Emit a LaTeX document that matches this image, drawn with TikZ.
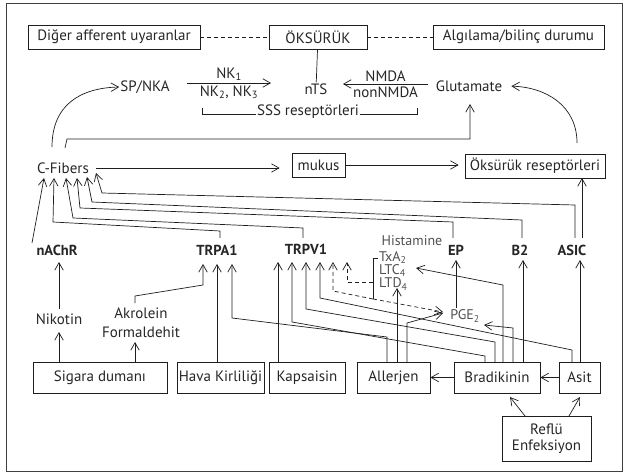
\documentclass[tikz,border=0pt]{standalone}
\usepackage{fontspec}
\setmainfont{PT Sans}
\usetikzlibrary{arrows.meta}
\definecolor{ink}{HTML}{1E1E1E}
\definecolor{txtc}{HTML}{262626}
\definecolor{medc}{HTML}{505050}
\newcommand\tightlines{\lineskiplimit=-20pt\relax}
\begin{document}
\begin{tikzpicture}[x=1pt,y=-1pt,
  every node/.style={text=txtc, font=\fontsize{15}{17}\selectfont, inner sep=1pt},
  box/.style={draw=ink, line width=0.8pt, minimum height=24pt, inner sep=0pt},
  bbox/.style={box, minimum height=31pt},
  rec/.style={font=\fontsize{14.5}{16}\selectfont\bfseries},
  medtxt/.style={text=medc, inner sep=0pt, font=\fontsize{14}{10}\selectfont},
  ln/.style={draw=ink, line width=0.7pt},
  arr/.style={ln, -{Straight Barb[length=7.5pt,width=8.5pt]}},
  dsh/.style={dash pattern=on 4pt off 3pt}]
\useasboundingbox (0,0) rectangle (624,473);
\draw[draw=ink!85, line width=0.9pt] (6,3) rectangle (622,471);

% top row
\node[box, minimum width=172pt] (diger) at (114,37) {Diğer afferent uyaranlar};
\node[box, minimum width=98pt] (oks) at (318,37) {ÖKSÜRÜK};
\node[box, minimum width=171pt] (alg) at (518.5,37) {Algılama/bilinç durumu};
\draw[ln, dsh] (diger) -- (oks);
\draw[ln, dsh] (oks) -- (alg);

% second row
\node (sp) at (145,87) {SP/NKA};
\node (nts) at (316,89) {nTS};
\node (glu) at (469,86) {Glutamate};
\draw[ln] (oks) -- (nts);
\coordinate (nka) at (187,83);
\coordinate (nkb) at (271,83);
\draw[arr] (nka) -- (nkb) node[midway, above=1pt] {NK\textsubscript{1}} node[midway, below=1pt] {NK\textsubscript{2}, NK\textsubscript{3}};
\coordinate (nma) at (428,84);
\coordinate (nmb) at (343,84);
\draw[arr] (nma) -- (nmb) node[midway, above=1pt] {NMDA} node[midway, below=1pt] {nonNMDA};
\node (sss) at (308,112) {SSS reseptörleri};
\draw[ln] (sss.west |- 0,114) -- (202,114) -- (202,108);
\draw[ln] (sss.east |- 0,114) -- (417,114) -- (417,108);

% third row
\node (cf) at (63,168) {C-Fibers};
\node[box, minimum width=53pt] (muk) at (318.5,165) {mukus};
\node[box, minimum width=140pt] (ors) at (535,166) {Öksürük reseptörleri};
\draw[arr, shorten <=6pt, shorten >=12pt] (cf.east) -- (cf.east -| muk.west);
\draw[arr, shorten >=6pt] (muk.east) -- (muk.east -| ors.west);
\coordinate (c1) at (52,147);
\draw[arr] (c1) .. controls (52,105) and (80,88) .. (sp.west);
\coordinate (c2) at (577,143);
\draw[arr, shorten >=8pt] (c2) .. controls (577,105) and (545,87) .. (glu.east);
\coordinate (c3) at (65,148);
\draw[arr] (c3) -- (67,139) -- (470,139) -- (470,104);

% receptors
\node[rec] (nachr) at (57,250) {nAChR};
\node[rec] (trpa) at (217,250) {TRPA1};
\node[rec] (trpv) at (306,249) {TRPV1};
\node[rec] (ep) at (456,250) {EP};
\node[rec] (b2) at (520,250) {B2};
\node[rec] (asic) at (572,250) {ASIC};
\node[medtxt] (hist) at (412,241) {Histamine};
\node[medtxt, anchor=north west, align=left] (med) at (379,251.5) {\tightlines TxA\textsubscript{2}\\LTC\textsubscript{4}\\LTD\textsubscript{4}};
\node[medtxt] (pge) at (465,316) {PGE\textsubscript{2}};

% receptors to C-fibers
\draw[arr] (32,243) -- (44,178);
\draw[arr] (220,238) -- (220,231) -- (53,222) -- (54,178);
\draw[arr] (303,238) -- (303,228) -- (73,218) -- (66,178);
\draw[arr] (453,238) -- (453,222) -- (80,208) -- (77,178);
\draw[arr] (522,238) -- (522,220) -- (92,202) -- (87,177);
\draw[arr] (575,238) -- (575,205) -- (102,193) -- (96,173);
\draw[arr] (582,238) -- (582,178);

% lower part
\node (nik) at (59,319) {Nikotin};
\node[align=center, font=\fontsize{15}{19}\selectfont] (akr) at (141,323) {Akrolein\\Formaldehit};
\node[bbox, minimum width=134pt] (sig) at (100,377.5) {Sigara dumanı};
\node[bbox, minimum width=87pt] (hava) at (220.5,377.5) {Hava Kirliliği};
\node[bbox, minimum width=76pt] (kap) at (307,377.5) {Kapsaisin};
\node[bbox, minimum width=73pt] (all) at (393.5,377.5) {Allerjen};
\node[bbox, minimum width=86pt] (bra) at (497,377.5) {Bradikinin};
\node[bbox, minimum width=41pt] (asit) at (579.5,377.5) {Asit};
\node[box, minimum width=89pt, minimum height=45pt, align=center, font=\fontsize{15}{16}\selectfont] (ref) at (546.5,438.5) {Reflü\\Enfeksiyon};

\draw[arr] (59,362) -- (59,332);
\draw[arr] (135,362) -- (135,342);
\draw[arr] (59,309) -- (59,262);
\draw[arr] (135,303) -- (135,296) -- (203,285) -- (203,264);
\draw[arr] (217,362) -- (217,264);
\draw[arr] (387,362) -- (387,337) -- (232,318) -- (232,264);
\draw[arr] (278,362) -- (278,262);
\draw[arr] (485,362) -- (485,356) -- (292,322) -- (292,262);
\draw[arr] (495,362) -- (495,342) -- (306,309) -- (306,262);
\draw[arr] (572,362) -- (572,350) -- (320,298) -- (320,262);
\draw[arr] (397,362) -- (397,288);
\draw[arr] (407,362) -- (407,323) -- (443,313);
\draw[arr] (503,362) -- (503,285) -- (416,268);
\draw[arr] (513,362) -- (513,328) -- (484,325);
\draw[arr] (523,362) -- (523,260);
\draw[arr] (580,362) -- (580,260);
\draw[arr] (456,308) -- (456,260);

% mediators bracket and dashed
\draw[ln] (378,258) -- (373,258) -- (373,299);
\draw[arr, dsh] (373,282) -- (347,282) -- (347,262);
\draw[arr, dsh] (373,299) -- (333,291) -- (333,262);
\draw[arr, dsh] (373,299) -- (443,312);

% bottom
\draw[arr] (bra.west) -- (all.east);
\draw[arr] (asit.west) -- (bra.east);
\draw[arr] (525,416) -- (510,397);
\draw[arr] (569,416) -- (580,397);
\end{tikzpicture}
\end{document}
